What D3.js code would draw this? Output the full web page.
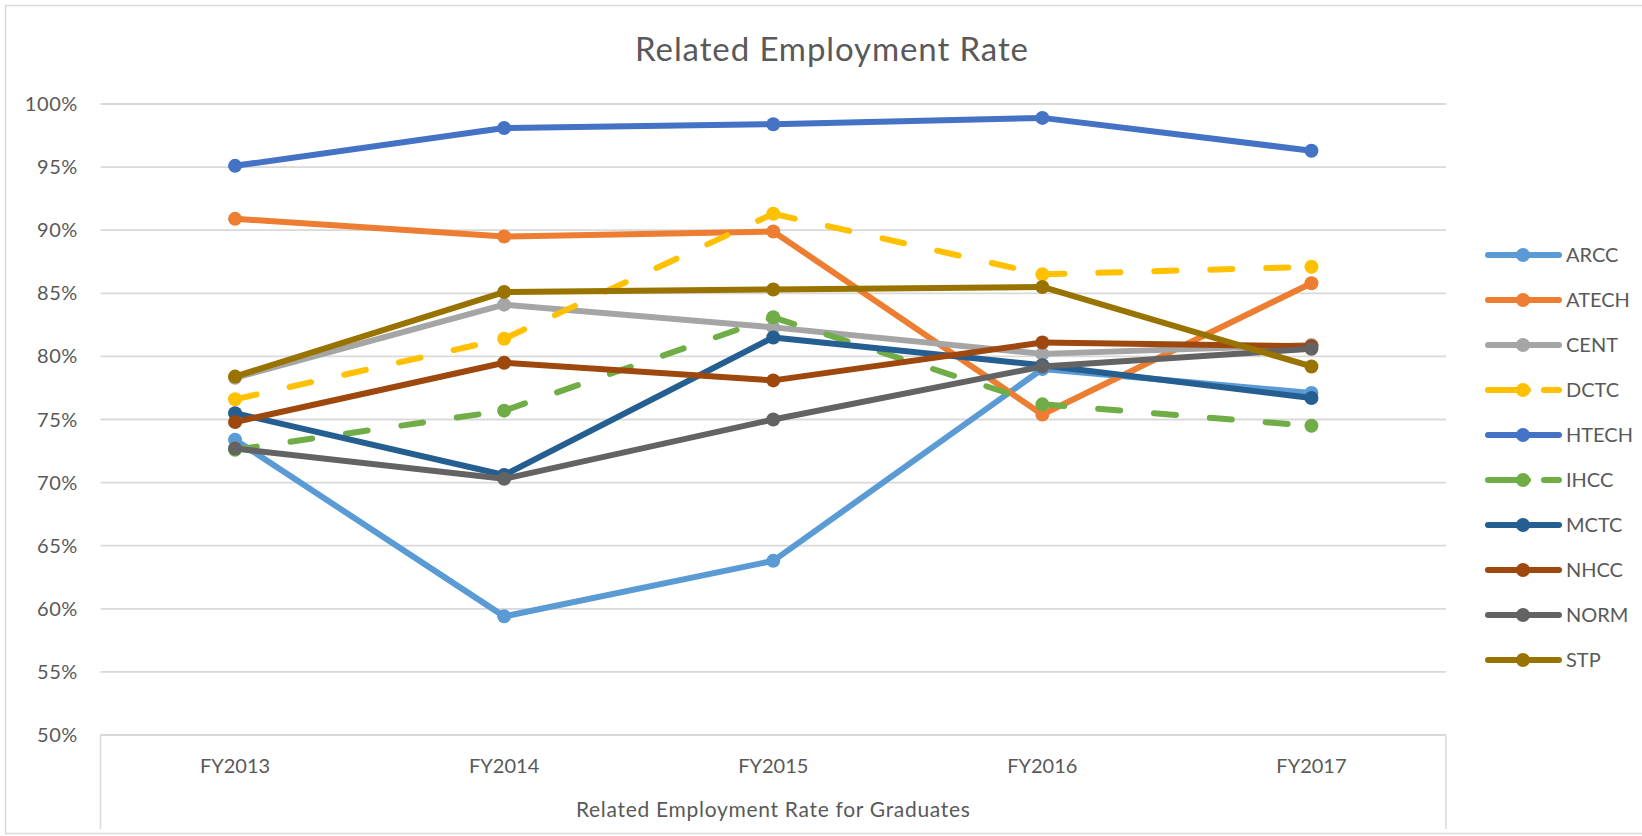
<!DOCTYPE html>
<html>
<head>
<meta charset="utf-8">
<title>Related Employment Rate</title>
<script src="https://cdn.jsdelivr.net/npm/d3@7"></script>
<style>
  body { margin: 0; background: #fff; }
  text { font-family: Lato, "Open Sans", sans-serif; fill: #595959; }
</style>
</head>
<body>
<script>
// data
var years = ["FY2013", "FY2014", "FY2015", "FY2016", "FY2017"];
var schools = ["ARCC", "ATECH", "CENT", "DCTC", "HTECH", "IHCC", "MCTC", "NHCC", "NORM", "STP"];
var ARCC  = [73.4, 59.4, 63.8, 79.0, 77.1];
var ATECH = [90.9, 89.5, 89.9, 75.4, 85.8];
var CENT  = [78.3, 84.1, 82.3, 80.2, 80.9];
var DCTC  = [76.6, 81.4, 91.3, 86.5, 87.1];
var HTECH = [95.1, 98.1, 98.4, 98.9, 96.3];
var IHCC  = [72.6, 75.7, 83.1, 76.2, 74.5];
var MCTC  = [75.5, 70.6, 81.5, 79.3, 76.7];
var NHCC  = [74.8, 79.5, 78.1, 81.1, 80.8];
var NORM  = [72.7, 70.3, 75.0, 79.2, 80.6];
var STP   = [78.4, 85.1, 85.3, 85.5, 79.2];
var yTicks = [50, 55, 60, 65, 70, 75, 80, 85, 90, 95, 100];

var colors = ["#5B9BD5", "#ED7D31", "#A5A5A5", "#FFC000", "#4472C4",
              "#70AD47", "#255E91", "#9E480E", "#636363", "#997300"];
var dashed = ["DCTC", "IHCC"];

var series = [ARCC, ATECH, CENT, DCTC, HTECH, IHCC, MCTC, NHCC, NORM, STP].map(function (v, i) {
  return { name: schools[i], values: v, color: colors[i] };
});

var w = 1642, h = 836;
var plotL = 100.5, plotR = 1446, plotT = 104, plotB = 735;
var lw = 6;

var svg = d3.select("body").append("svg")
  .attr("width", w).attr("height", h);

// chart border
svg.append("rect")
  .attr("x", 5.5).attr("y", 5.5)
  .attr("width", w + 10).attr("height", 828)
  .attr("fill", "none").attr("stroke", "#d9d9d9").attr("stroke-width", 1.5);

var x = d3.scalePoint().domain(years).range([plotL, plotR]).padding(0.5);
var y = d3.scaleLinear().domain([50, 100]).range([plotB, plotT]);

// title
svg.append("text")
  .attr("x", 832).attr("y", 61)
  .attr("text-anchor", "middle")
  .style("font-size", "33px")
  .style("letter-spacing", "0.9px")
  .text("Related Employment Rate");

// gridlines
svg.append("g").selectAll("line").data(yTicks).enter().append("line")
  .attr("x1", plotL).attr("x2", plotR)
  .attr("y1", function (d) { return y(d); })
  .attr("y2", function (d) { return y(d); })
  .attr("stroke", "#d9d9d9").attr("stroke-width", 1.8);

// y axis labels
svg.append("g").selectAll("text").data(yTicks).enter().append("text")
  .attr("x", 78)
  .attr("y", function (d) { return y(d) + 7; })
  .attr("text-anchor", "end")
  .style("font-size", "20px")
  .style("letter-spacing", "0.6px")
  .text(function (d) { return d + "%"; });

// category axis box (left & right edges under the plot)
svg.append("line").attr("x1", plotL).attr("x2", plotL).attr("y1", plotB).attr("y2", 829)
  .attr("stroke", "#d9d9d9").attr("stroke-width", 1.5);
svg.append("line").attr("x1", plotR).attr("x2", plotR).attr("y1", plotB).attr("y2", 829)
  .attr("stroke", "#d9d9d9").attr("stroke-width", 1.5);

svg.append("g").selectAll("text").data(years).enter().append("text")
  .attr("x", function (d) { return x(d); })
  .attr("y", 773)
  .attr("text-anchor", "middle")
  .style("font-size", "20px")
  .text(function (d) { return d; });

svg.append("text")
  .attr("x", (plotL + plotR) / 2).attr("y", 817)
  .attr("text-anchor", "middle")
  .style("font-size", "21px")
  .style("letter-spacing", "0.7px")
  .text("Related Employment Rate for Graduates");

// lines: each segment drawn separately so the dash pattern restarts at every point
var line = d3.line()
  .x(function (d) { return x(d.year); })
  .y(function (d) { return y(d.value); });

series.forEach(function (s) {
  var pts = s.values.map(function (v, i) { return { year: years[i], value: v }; });
  var isDash = dashed.indexOf(s.name) >= 0;
  var g = svg.append("g");
  g.selectAll("path").data(d3.pairs(pts)).enter().append("path")
    .attr("d", function (d) { return line(d); })
    .attr("fill", "none")
    .attr("stroke", s.color)
    .attr("stroke-width", lw)
    .attr("stroke-linecap", "round")
    .attr("stroke-linejoin", "round")
    .attr("stroke-dasharray", isDash ? "22,34" : null);
  g.selectAll("circle").data(pts).enter().append("circle")
    .attr("cx", function (d) { return x(d.year); })
    .attr("cy", function (d) { return y(d.value); })
    .attr("r", 7)
    .attr("fill", s.color);
});

// legend
var leg = svg.append("g").selectAll("g").data(series).enter().append("g")
  .attr("transform", function (d, i) { return "translate(0," + (255 + i * 45) + ")"; });
leg.append("line")
  .attr("x1", 1488).attr("x2", 1559)
  .attr("stroke", function (d) { return d.color; })
  .attr("stroke-width", lw)
  .attr("stroke-linecap", "round")
  .attr("stroke-dasharray", function (d) { return dashed.indexOf(d.name) >= 0 ? "40,16" : null; });
leg.append("circle")
  .attr("cx", 1523).attr("r", 7)
  .attr("fill", function (d) { return d.color; });
leg.append("text")
  .attr("x", 1566).attr("y", 7)
  .style("font-size", "20px")
  .text(function (d) { return d.name; });
</script>
</body>
</html>
